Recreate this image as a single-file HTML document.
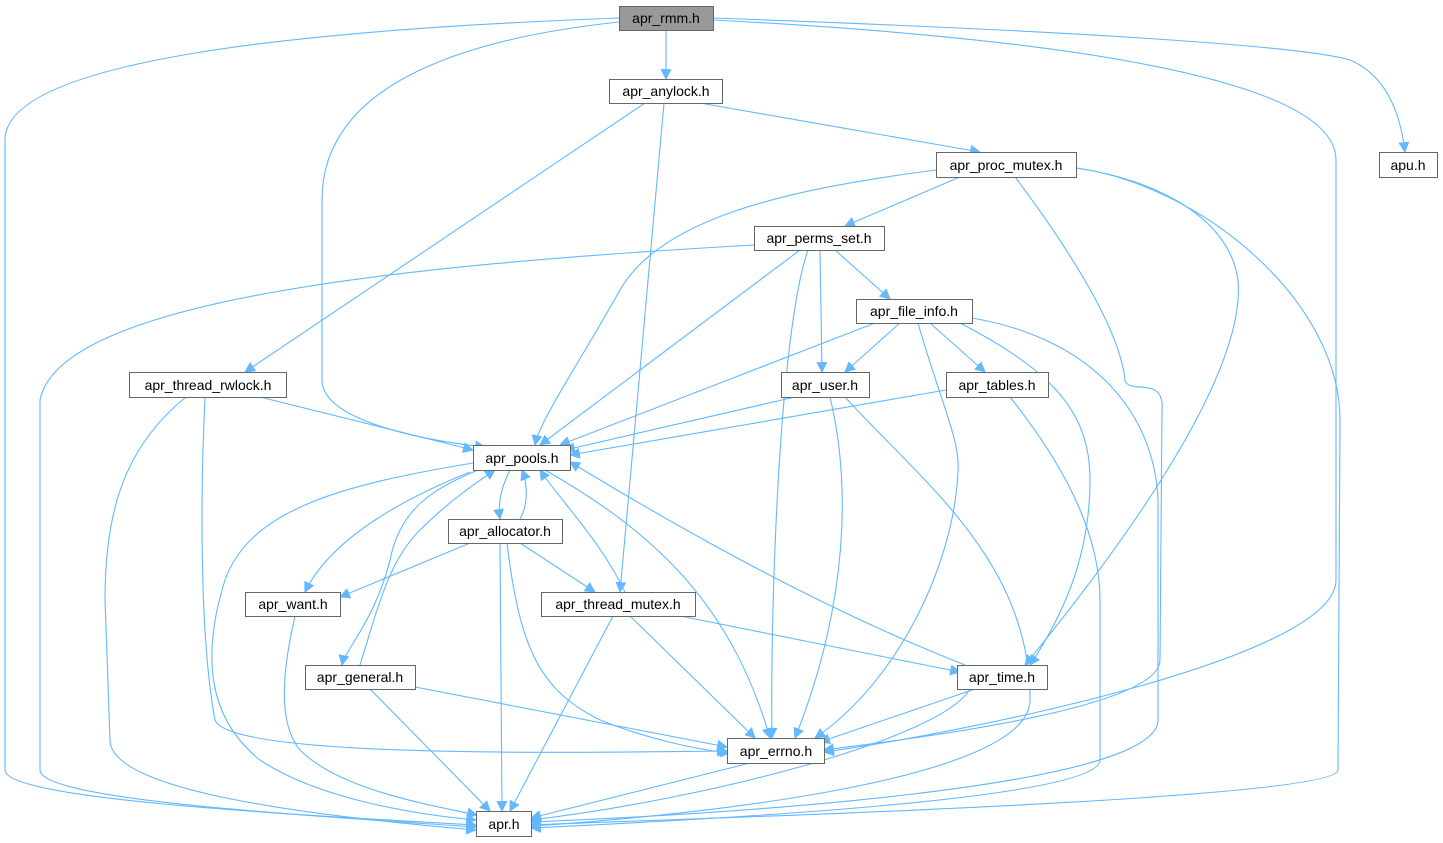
<!DOCTYPE html>
<html><head><meta charset="utf-8"><style>
html,body{margin:0;padding:0;background:#fff;}
svg{display:block;}
text{font-family:"Liberation Sans",sans-serif;font-size:14px;fill:#000;}
</style></head><body>
<svg width="1443" height="843" viewBox="0 0 1443 843" xmlns="http://www.w3.org/2000/svg">
<defs>
<marker id="a" viewBox="0 0 10 10" refX="9" refY="5" markerWidth="11" markerHeight="11" markerUnits="userSpaceOnUse" orient="auto">
<path d="M0,0 L10,5 L0,10 z" fill="#63b8ff"/></marker>
</defs>
<g fill="none" stroke="#63b8ff" stroke-width="1.1" marker-end="url(#a)">
<path d="M666,30 L666,79"/>
<path d="M619,18 C300,30 5,60 5,140 L5,770 C5,800 300,815 476,825"/>
<path d="M619,22 C450,40 322,90 322,200 L322,380 C322,420 420,440 485,447"/>
<path d="M713,20 C1000,35 1336,70 1336,160 L1336,580 C1336,660 950,735 824,752"/>
<path d="M713,18 C1050,30 1300,45 1350,60 C1385,75 1400,110 1405,152"/>
<path d="M645,103 L245,372"/>
<path d="M664,103 L620,592"/>
<path d="M700,103 L980,152"/>
<path d="M960,177 L845,226"/>
<path d="M936,170 C780,190 660,220 620,290 C575,370 540,420 535,445"/>
<path d="M1015,177 C1070,250 1120,330 1125,380 C1128,395 1165,375 1162,410 L1160,660 C1160,710 900,740 824,750"/>
<path d="M1076,168 C1160,180 1230,220 1238,280 C1245,360 1160,500 1025,665"/>
<path d="M1076,168 C1200,185 1340,300 1340,420 L1338,770 C1338,800 700,818 531,825"/>
<path d="M754,245 C400,265 60,300 40,400 L40,770 C40,800 300,815 476,827"/>
<path d="M800,250 L540,445"/>
<path d="M808,250 C780,330 770,600 772,738"/>
<path d="M820,250 L822,372"/>
<path d="M835,250 L890,299"/>
<path d="M875,323 L560,445"/>
<path d="M900,323 L845,372"/>
<path d="M930,323 L985,372"/>
<path d="M918,323 C940,400 960,440 958,470 C955,560 900,680 815,738"/>
<path d="M960,323 C1050,370 1090,410 1090,480 C1090,560 1060,620 1030,665"/>
<path d="M972,318 C1100,340 1155,420 1158,500 L1158,720 C1158,790 700,815 531,822"/>
<path d="M260,397 L473,450"/>
<path d="M186,397 C120,450 105,520 105,600 L110,740 C110,790 300,815 476,830"/>
<path d="M205,397 C200,500 200,640 215,720 C230,760 600,752 727,751"/>
<path d="M795,397 L565,450"/>
<path d="M830,397 C850,480 850,600 795,738"/>
<path d="M845,397 C920,480 1030,560 1030,700 C1030,780 700,815 531,826"/>
<path d="M946,390 L570,455"/>
<path d="M1010,397 C1060,460 1100,530 1100,600 L1100,760 C1100,800 700,820 531,828"/>
<path d="M510,470 C500,490 498,505 500,519"/>
<path d="M520,519 C528,505 528,485 522,470"/>
<path d="M470,472 C400,500 330,540 305,592"/>
<path d="M478,470 C430,490 400,510 390,560 C375,620 345,650 342,665"/>
<path d="M360,665 C380,600 390,560 420,530 C450,500 480,480 495,470"/>
<path d="M473,463 C340,485 250,510 225,580 C200,660 210,720 260,760 C320,800 420,815 476,820"/>
<path d="M545,470 C650,530 730,600 770,738"/>
<path d="M625,592 C600,540 560,500 540,470"/>
<path d="M965,665 C800,600 650,510 570,462"/>
<path d="M470,543 L340,597"/>
<path d="M520,543 L595,592"/>
<path d="M500,543 L502,811"/>
<path d="M507,543 C520,650 540,690 600,720 C650,740 700,750 730,753"/>
<path d="M295,616 C285,660 275,720 300,750 C340,790 430,805 477,815"/>
<path d="M415,687 L727,747"/>
<path d="M370,689 C400,720 450,770 490,811"/>
<path d="M680,616 L960,672"/>
<path d="M630,616 L755,738"/>
<path d="M613,616 L510,811"/>
<path d="M975,689 L820,742"/>
<path d="M970,689 C940,740 700,800 531,820"/>
<path d="M750,763 L531,818"/>
</g>
<g stroke="#666" stroke-width="1" fill="#fff">
<rect x="619.5" y="6.5" width="94" height="24" fill="#999"/>
<rect x="609.5" y="79.5" width="113" height="24"/>
<rect x="936.5" y="152.5" width="140" height="25"/>
<rect x="1379.5" y="152.5" width="58" height="25"/>
<rect x="754.5" y="226.5" width="130" height="24"/>
<rect x="856.5" y="299.5" width="116" height="24"/>
<rect x="129.5" y="372.5" width="157" height="25"/>
<rect x="781.5" y="372.5" width="88" height="25"/>
<rect x="946.5" y="372.5" width="102" height="25"/>
<rect x="473.5" y="445.5" width="97" height="25"/>
<rect x="448.5" y="519.5" width="114" height="24"/>
<rect x="245.5" y="592.5" width="95" height="24"/>
<rect x="541.5" y="592.5" width="154" height="24"/>
<rect x="305.5" y="665.5" width="110" height="24"/>
<rect x="957.5" y="665.5" width="90" height="24"/>
<rect x="727.5" y="738.5" width="97" height="25"/>
<rect x="476.5" y="811.5" width="55" height="25"/>
</g>
<g text-anchor="middle">
<text x="666" y="23">apr_rmm.h</text>
<text x="666" y="96">apr_anylock.h</text>
<text x="1006" y="170">apr_proc_mutex.h</text>
<text x="1408" y="170">apu.h</text>
<text x="819" y="243">apr_perms_set.h</text>
<text x="914" y="316">apr_file_info.h</text>
<text x="208" y="390">apr_thread_rwlock.h</text>
<text x="825" y="390">apr_user.h</text>
<text x="997" y="390">apr_tables.h</text>
<text x="522" y="463">apr_pools.h</text>
<text x="505" y="536">apr_allocator.h</text>
<text x="293" y="609">apr_want.h</text>
<text x="618" y="609">apr_thread_mutex.h</text>
<text x="360" y="682">apr_general.h</text>
<text x="1002" y="682">apr_time.h</text>
<text x="776" y="756">apr_errno.h</text>
<text x="504" y="829">apr.h</text>
</g>
</svg>
</body></html>
